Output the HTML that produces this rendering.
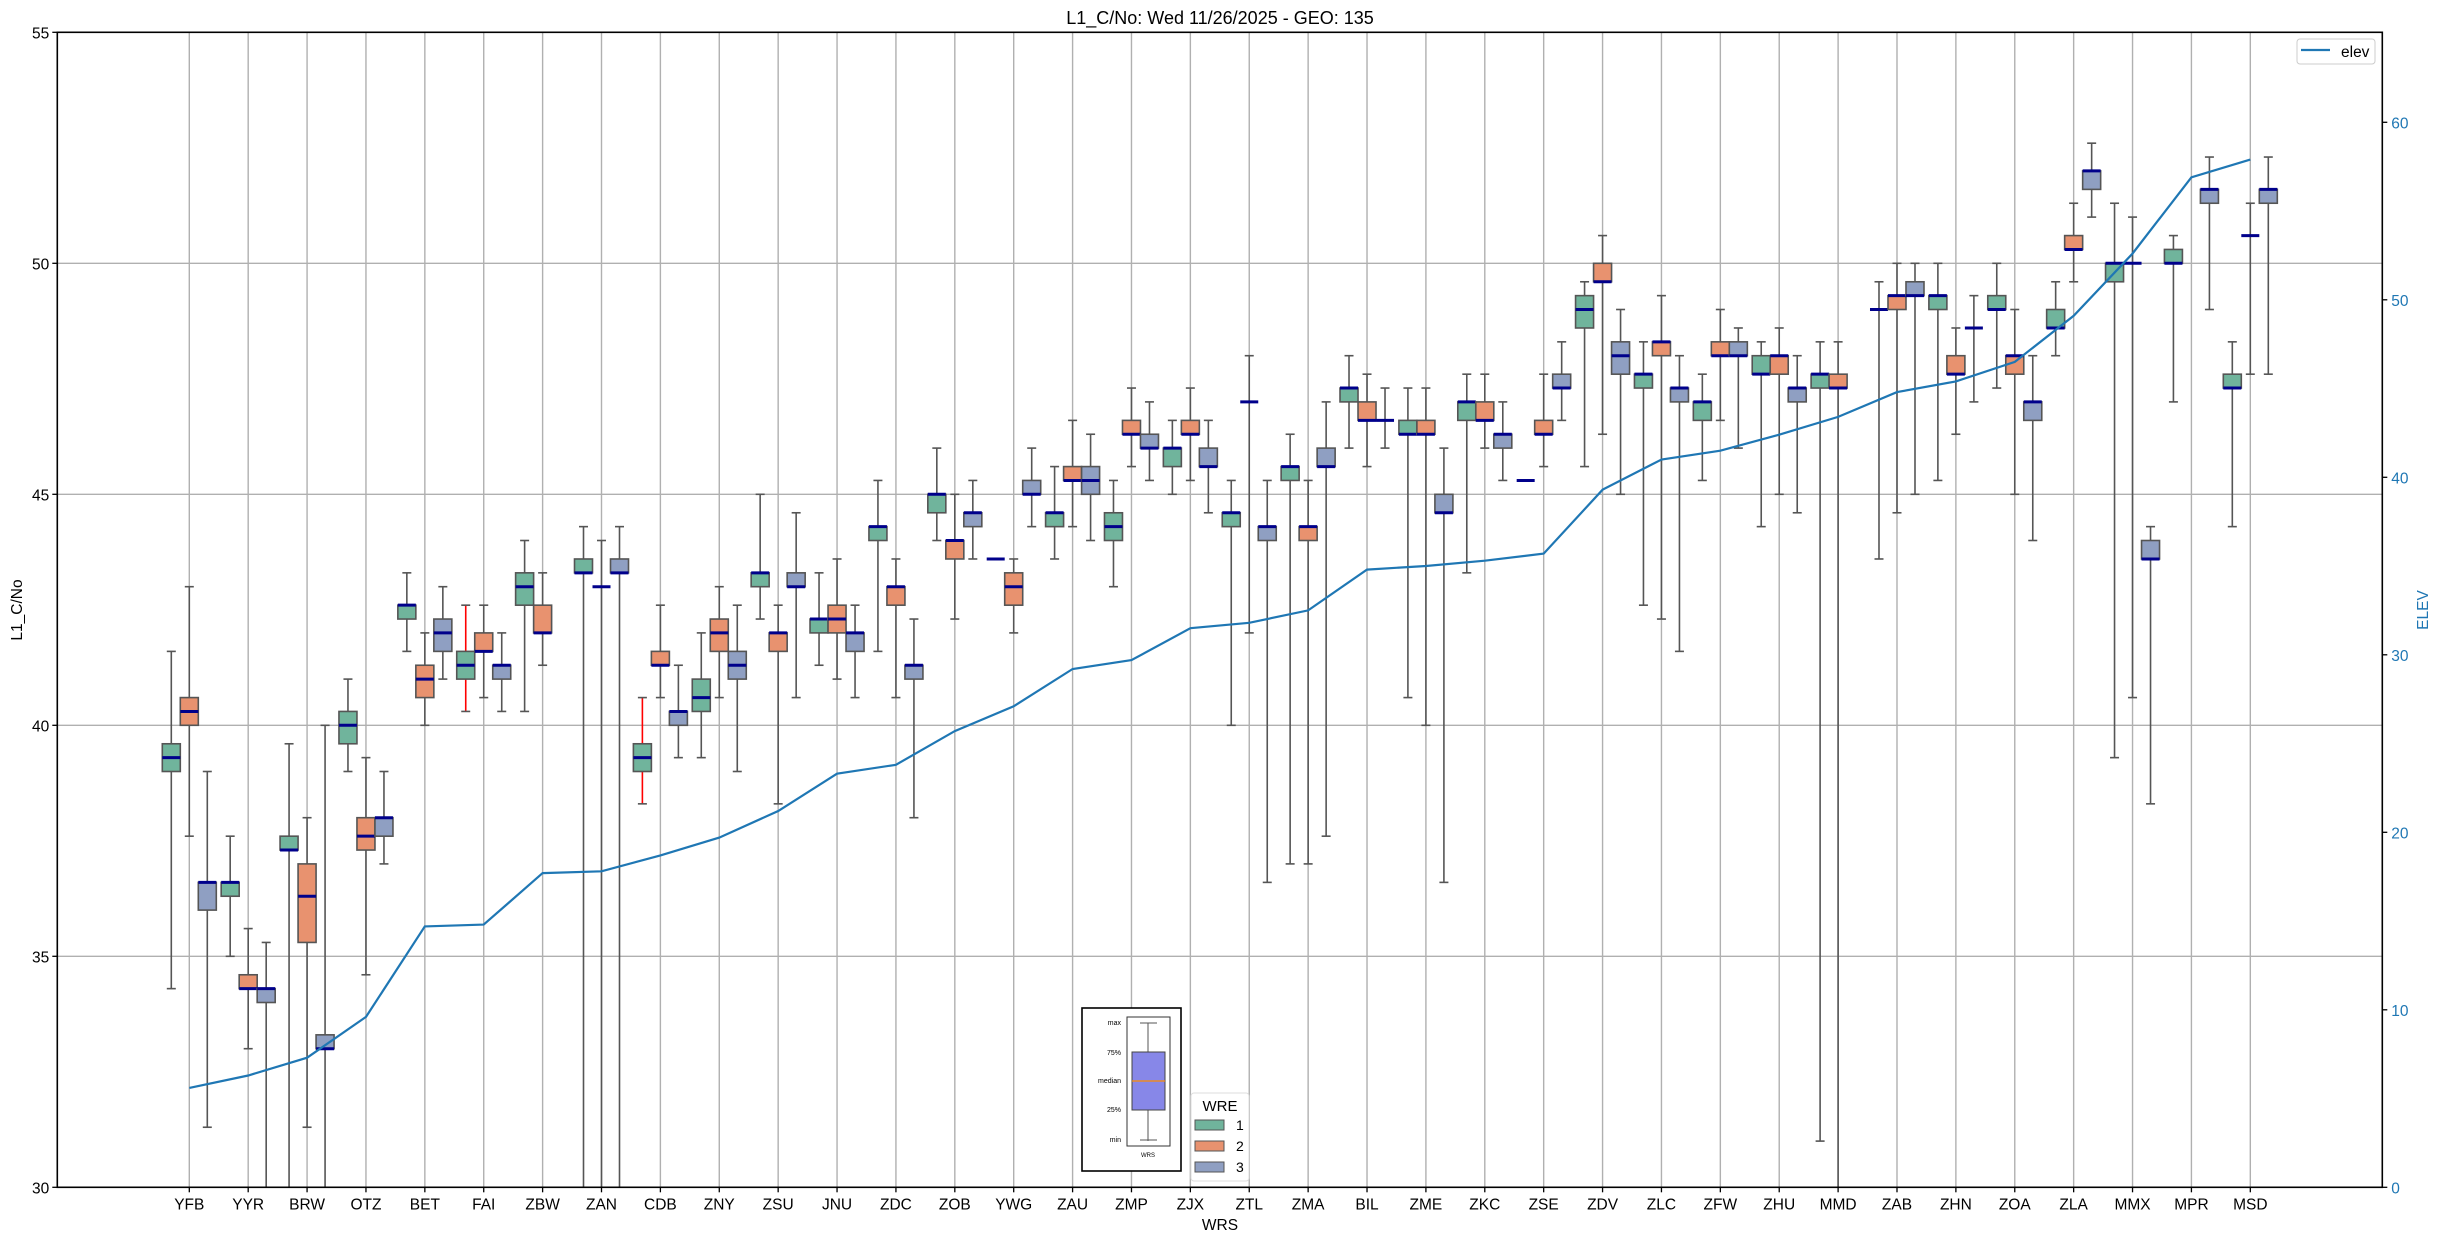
<!DOCTYPE html>
<html><head><meta charset="utf-8"><style>
html,body{margin:0;padding:0;background:#fff;}
svg{display:block;font-family:"Liberation Sans","DejaVu Sans",sans-serif;}
</style></head><body>
<svg id="chart" width="2438" height="1240" viewBox="0 0 2438 1240" xmlns="http://www.w3.org/2000/svg">
<rect width="2438" height="1240" fill="#fff"/>
<g id="grid"></g><g id="marks"></g><g id="axes"></g>
</svg>
<script>
const categories=["YFB","YYR","BRW","OTZ","BET","FAI","ZBW","ZAN","CDB","ZNY","ZSU","JNU","ZDC","ZOB","YWG","ZAU","ZMP","ZJX","ZTL","ZMA","BIL","ZME","ZKC","ZSE","ZDV","ZLC","ZFW","ZHU","MMD","ZAB","ZHN","ZOA","ZLA","MMX","MPR","MSD"];
const elev=[5.6,6.3,7.3,9.6,14.7,14.8,17.7,17.8,18.7,19.7,21.2,23.3,23.8,25.7,27.1,29.2,29.7,31.5,31.8,32.5,34.8,35.0,35.3,35.7,39.3,41.0,41.5,42.4,43.4,44.8,45.4,46.5,49.1,52.6,56.9,57.9];
// [min,q1,median,q3,max] per station
const wre1=[[34.3,39.0,39.3,39.6,41.6],[35.0,36.3,36.6,36.6,37.6],[29,37.3,37.3,37.6,39.6],[39.0,39.6,40.0,40.3,41.0],[41.6,42.3,42.6,42.6,43.3],[40.3,41.0,41.3,41.6,42.6],[40.3,42.6,43.0,43.3,44.0],[29,43.3,43.3,43.6,44.3],[38.3,39.0,39.3,39.6,40.6],[39.3,40.3,40.6,41.0,42.0],[42.3,43.0,43.3,43.3,45.0],[41.3,42.0,42.3,42.3,43.3],[41.6,44.0,44.3,44.3,45.3],[44.0,44.6,45.0,45.0,46.0],[43.6,43.6,43.6,43.6,43.6],[43.6,44.3,44.6,44.6,45.6],[43.0,44.0,44.3,44.6,45.3],[45.0,45.6,46.0,46.0,46.6],[40.0,44.3,44.6,44.6,45.3],[37.0,45.3,45.6,45.6,46.3],[46.0,47.0,47.3,47.3,48.0],[40.6,46.3,46.3,46.6,47.3],[43.3,46.6,47.0,47.0,47.6],[45.3,45.3,45.3,45.3,45.3],[45.6,48.6,49.0,49.3,49.6],[42.6,47.3,47.6,47.6,48.3],[45.3,46.6,47.0,47.0,47.6],[44.3,47.6,47.6,48.0,48.3],[31.0,47.3,47.6,47.6,48.3],[43.6,49.0,49.0,49.0,49.6],[45.3,49.0,49.3,49.3,50.0],[47.3,49.0,49.0,49.3,50.0],[48.0,48.6,48.6,49.0,49.6],[39.3,49.6,50.0,50.0,51.3],[47.0,50.0,50.0,50.3,50.6],[44.3,47.3,47.3,47.6,48.3]];
const wre2=[[37.6,40.0,40.3,40.6,43.0],[33.0,34.3,34.3,34.6,35.6],[31.3,35.3,36.3,37.0,38.0],[34.6,37.3,37.6,38.0,39.3],[40.0,40.6,41.0,41.3,42.0],[40.6,41.6,41.6,42.0,42.6],[41.3,42.0,42.0,42.6,43.3],[29,43.0,43.0,43.0,44.0],[40.6,41.3,41.3,41.6,42.6],[40.6,41.6,42.0,42.3,43.0],[38.3,41.6,42.0,42.0,42.6],[41.0,42.0,42.3,42.6,43.6],[40.6,42.6,43.0,43.0,43.6],[42.3,43.6,44.0,44.0,45.0],[42.0,42.6,43.0,43.3,43.6],[44.3,45.3,45.3,45.6,46.6],[45.6,46.3,46.3,46.6,47.3],[45.3,46.3,46.3,46.6,47.3],[42.0,47.0,47.0,47.0,48.0],[37.0,44.0,44.3,44.3,45.3],[45.6,46.6,46.6,47.0,47.6],[40.0,46.3,46.3,46.6,47.3],[46.0,46.6,46.6,47.0,47.6],[45.6,46.3,46.3,46.6,47.6],[46.3,49.6,49.6,50.0,50.6],[42.3,48.0,48.3,48.3,49.3],[46.6,48.0,48.0,48.3,49.0],[45.0,47.6,48.0,48.0,48.6],[29,47.3,47.3,47.6,48.3],[44.6,49.0,49.3,49.3,50.0],[46.3,47.6,47.6,48.0,48.6],[45.0,47.6,48.0,48.0,49.0],[49.6,50.3,50.3,50.6,51.3],[40.6,50.0,50.0,50.0,51.0],null,[47.6,50.6,50.6,50.6,51.3]];
const wre3=[[31.3,36.0,36.6,36.6,39.0],[29,34.0,34.3,34.3,35.3],[29,33.0,33.0,33.3,40.0],[37.0,37.6,38.0,38.0,39.0],[41.0,41.6,42.0,42.3,43.0],[40.3,41.0,41.3,41.3,42.0],null,[29,43.3,43.3,43.6,44.3],[39.3,40.0,40.3,40.3,41.3],[39.0,41.0,41.3,41.6,42.6],[40.6,43.0,43.0,43.3,44.6],[40.6,41.6,42.0,42.0,42.6],[38.0,41.0,41.3,41.3,42.3],[43.6,44.3,44.6,44.6,45.3],[44.3,45.0,45.0,45.3,46.0],[44.0,45.0,45.3,45.6,46.3],[45.3,46.0,46.0,46.3,47.0],[44.6,45.6,45.6,46.0,46.6],[36.6,44.0,44.3,44.3,45.3],[37.6,45.6,45.6,46.0,47.0],[46.0,46.6,46.6,46.6,47.3],[36.6,44.6,44.6,45.0,46.0],[45.3,46.0,46.3,46.3,47.0],[46.6,47.3,47.3,47.6,48.3],[45.0,47.6,48.0,48.3,49.0],[41.6,47.0,47.3,47.3,48.0],[46.0,48.0,48.0,48.3,48.6],[44.6,47.0,47.3,47.3,48.0],null,[45.0,49.3,49.3,49.6,50.0],[47.0,48.6,48.6,48.6,49.3],[44.0,46.6,47.0,47.0,48.0],[51.0,51.6,52.0,52.0,52.6],[38.3,43.6,43.6,44.0,44.3],[49.0,51.3,51.6,51.6,52.3],[47.6,51.3,51.6,51.6,52.3]];
const leftTicks=[30,35,40,45,50,55];
const rightTicks=[0,10,20,30,40,50,60];
const redWhisker={"1":[5,8]};

const L=57.3,R=2382.3,T=32.3,B=1187.3;
const x0=189.3,dx=58.886;
const xs=i=>x0+i*dx;
const y=v=>B-(v-30)*(B-T)/25;
const ye=v=>B-v*(B-T)/65.07;
const NS="http://www.w3.org/2000/svg";
function mk(tag,attrs,parent){const e=document.createElementNS(NS,tag);for(const k in attrs)e.setAttribute(k,attrs[k]);parent.appendChild(e);return e;}
const svg=document.getElementById('chart'),grid=document.getElementById('grid'),marks=document.getElementById('marks'),axes=document.getElementById('axes');
// grid
categories.forEach((c,i)=>{const g=mk('line',{x1:xs(i),x2:xs(i),y1:T,y2:B,stroke:'#b0b0b0','stroke-width':1.4},grid);

});
leftTicks.forEach(v=>{const g=mk('line',{x1:L,x2:R,y1:y(v),y2:y(v),stroke:'#b0b0b0','stroke-width':1.4},grid);

});
// boxes
const series=[wre1,wre2,wre3],fills=['#70b49c','#e8926f','#8f9fc2'],offs=[-18,0,18],bw=18;
const clip=v=>Math.max(29.6,v);
series.forEach((s,k)=>{s.forEach((d,i)=>{if(!d)return;
const cx=xs(i)+offs[k];const g=mk('g',{},marks);


const red=(redWhisker[String(k)]||[]).includes(i)&&false;
const wc=((k===0)&&(i===5||i===8))?'#ff0000':'#555';
mk('line',{x1:cx,x2:cx,y1:y(d[3]),y2:y(d[4]),stroke:wc,'stroke-width':1.6},g);
mk('line',{x1:cx,x2:cx,y1:y(d[1]),y2:Math.min(B,y(clip(d[0]))),stroke:wc,'stroke-width':1.6},g);
mk('line',{x1:cx-4.5,x2:cx+4.5,y1:y(d[4]),y2:y(d[4]),stroke:'#555','stroke-width':1.6},g);
if(d[0]>=30)mk('line',{x1:cx-4.5,x2:cx+4.5,y1:y(d[0]),y2:y(d[0]),stroke:'#555','stroke-width':1.6},g);
if(d[3]>d[1])mk('rect',{x:cx-bw/2,y:y(d[3]),width:bw,height:y(d[1])-y(d[3]),fill:fills[k],stroke:'#555','stroke-width':1.6},g);
mk('line',{x1:cx-bw/2,x2:cx+bw/2,y1:y(d[2]),y2:y(d[2]),stroke:'#00008b','stroke-width':3},g);
});});
// elev line
const pts=elev.map((v,i)=>xs(i).toFixed(1)+','+ye(v).toFixed(1)).join(' ');
const pl=mk('polyline',{points:pts,fill:'none',stroke:'#1f77b4','stroke-width':2.2},marks);


// frame
const fr=mk('rect',{x:L,y:T,width:R-L,height:B-T,fill:'none',stroke:'#000','stroke-width':1.6},axes);


categories.forEach((c,i)=>{mk('line',{x1:xs(i),x2:xs(i),y1:B,y2:B+5,stroke:'#000','stroke-width':1.3},axes);
const t=mk('text',{x:xs(i),y:B+22,'font-size':15.5,'text-anchor':'middle',fill:'#000'},axes);t.textContent=c;

});
leftTicks.forEach(v=>{mk('line',{x1:L-5,x2:L,y1:y(v),y2:y(v),stroke:'#000','stroke-width':1.3},axes);
const t=mk('text',{x:L-8,y:y(v)+6,'font-size':15.5,'text-anchor':'end',fill:'#000'},axes);t.textContent=v;

});
rightTicks.forEach(v=>{mk('line',{x1:R,x2:R+5,y1:ye(v),y2:ye(v),stroke:'#000','stroke-width':1.3},axes);
const t=mk('text',{x:R+9,y:ye(v)+6,'font-size':15.5,'text-anchor':'start',fill:'#1f77b4'},axes);t.textContent=v;

});
</script>
<svg style="position:absolute;left:0;top:0" width="2438" height="1240" xmlns="http://www.w3.org/2000/svg" font-family="Liberation Sans, DejaVu Sans, sans-serif">
<text x="1220" y="24" font-size="18" text-anchor="middle">L1_C/No: Wed 11/26/2025 - GEO: 135</text>
<text x="1220" y="1230" font-size="15.5" text-anchor="middle">WRS</text>
<text transform="translate(22,610) rotate(-90)" font-size="15.5" text-anchor="middle">L1_C/No</text>
<text transform="translate(2428,610) rotate(-90)" font-size="15.5" text-anchor="middle" fill="#1f77b4">ELEV</text>
<g>
<rect x="2297" y="39" width="78" height="25" rx="3" fill="#fff" stroke="#ccc"/>
<line x1="2301" x2="2330" y1="50" y2="50" stroke="#1f77b4" stroke-width="2.2"/>
<text x="2341" y="57" font-size="15.5">elev</text>
</g>
<g>
<rect x="1082" y="1008" width="99" height="163" fill="#fff" stroke="#000" stroke-width="1.6"/>
<rect x="1127" y="1017" width="43" height="129" fill="none" stroke="#333" stroke-width="1"/>
<line x1="1148" x2="1148" y1="1023" y2="1141" stroke="#555" stroke-width="1"/>
<line x1="1140" x2="1157" y1="1023" y2="1023" stroke="#555"/>
<line x1="1140" x2="1157" y1="1140" y2="1140" stroke="#555"/>
<rect x="1132" y="1052" width="33" height="58" fill="#8787e8" stroke="#444"/>
<line x1="1132" x2="1165" y1="1081" y2="1081" stroke="#ff8c00" stroke-width="1.2"/>
<g font-size="7" text-anchor="end"><text x="1121" y="1025">max</text><text x="1121" y="1055">75%</text><text x="1121" y="1083">median</text><text x="1121" y="1112">25%</text><text x="1121" y="1142">min</text></g>
<text x="1148" y="1157" font-size="6" text-anchor="middle">WRS</text>
</g>
<g>
<rect x="1191" y="1093" width="58" height="88" rx="3" fill="#fff" stroke="#ddd"/>
<text x="1220" y="1111" font-size="15" text-anchor="middle">WRE</text>
<rect x="1195" y="1120" width="29" height="10" fill="#70b49c" stroke="#555"/><text x="1236" y="1130" font-size="14">1</text>
<rect x="1195" y="1141" width="29" height="10" fill="#e8926f" stroke="#555"/><text x="1236" y="1151" font-size="14">2</text>
<rect x="1195" y="1162" width="29" height="10" fill="#8f9fc2" stroke="#555"/><text x="1236" y="1172" font-size="14">3</text>
</g>
</svg>
</body></html>
